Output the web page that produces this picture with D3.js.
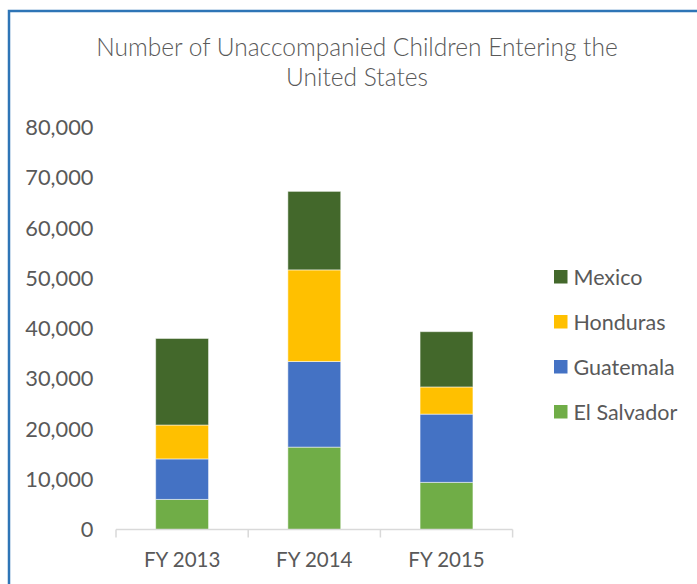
<!DOCTYPE html>
<html>
<head>
<meta charset="utf-8">
<script src="https://cdn.jsdelivr.net/npm/d3@7"></script>
<style>
  html, body { margin: 0; padding: 0; background: #fff; }
  svg { display: block; }
</style>
</head>
<body>
<svg id="chart" width="697" height="584"></svg>
<script>
const categories = ["FY 2013", "FY 2014", "FY 2015"];
const seriesNames = ["El Salvador", "Guatemala", "Honduras", "Mexico"];
const elSalvador = [5990, 16404, 9389];
const guatemala = [8068, 17057, 13589];
const honduras = [6747, 18244, 5409];
const mexico = [17240, 15634, 11012];
const yTicks = [0, 10000, 20000, 30000, 40000, 50000, 60000, 70000, 80000];
const colors = ["#70AD47", "#4472C4", "#FFC000", "#43682B"];
const titleLines = ["Number of Unaccompanied Children Entering the", "United States"];

const seriesValues = [elSalvador, guatemala, honduras, mexico];
const rows = categories.map((c, i) => {
  const r = { category: c };
  seriesNames.forEach((s, j) => r[s] = seriesValues[j][i]);
  return r;
});

const svg = d3.select("#chart");
const W = 697, H = 584;

// Border (top and left visible)
svg.append("path")
  .attr("d", `M9,${H + 2} L9,11 L${W + 2},11`)
  .attr("fill", "none")
  .attr("stroke", "#2E75B6")
  .attr("stroke-width", 2.5);

const textColor = "#595959";
const labelFont = "Lato, 'Open Sans', 'Liberation Sans', sans-serif";

// Title
svg.append("text")
  .attr("x", 357)
  .attr("y", 55.5)
  .attr("text-anchor", "middle")
  .attr("fill", textColor)
  .style("font-family", "Lato, 'DejaVu Sans', sans-serif")
  .style("font-weight", 300)
  .style("font-size", "24.5px")
  .selectAll("tspan")
  .data(titleLines)
  .join("tspan")
  .attr("x", 357)
  .attr("dy", (d, i) => i === 0 ? 0 : 30)
  .text(d => d);

const x = d3.scaleBand()
  .domain(categories)
  .range([116, 512.6])
  .paddingInner(0.6)
  .paddingOuter(0.3);

const y = d3.scaleLinear()
  .domain([0, 80000])
  .range([529.5, 127.8]);

const stack = d3.stack().keys(seriesNames);
const stacked = stack(rows);

const g = svg.append("g");
g.selectAll("g.series")
  .data(stacked)
  .join("g")
  .attr("class", "series")
  .attr("fill", (d, i) => colors[i])
  .selectAll("rect")
  .data(d => d)
  .join("rect")
  .attr("x", d => x(d.data.category))
  .attr("width", x.bandwidth())
  .attr("y", d => y(d[1]))
  .attr("height", d => y(d[0]) - y(d[1]))
  .attr("stroke", "rgba(255,255,255,0.5)")
  .attr("stroke-width", 1);

// Y axis labels
const yAxis = d3.axisLeft(y)
  .tickValues(yTicks)
  .tickSize(0)
  .tickPadding(0)
  .tickFormat(d3.format(","));
const yg = svg.append("g")
  .attr("transform", "translate(93.5,0)")
  .call(yAxis);
yg.select(".domain").remove();
yg.selectAll("text")
  .attr("fill", textColor)
  .style("font-family", labelFont)
  .style("font-size", "21.8px");

// X axis
const xAxis = d3.axisBottom(x)
  .tickSize(0)
  .tickPadding(0);
const xg = svg.append("g")
  .attr("transform", "translate(0,529.5)")
  .call(xAxis);
xg.select(".domain")
  .attr("stroke", "#D9D9D9")
  .attr("stroke-width", 1.5)
  .attr("d", `M116,0H512.6`);
xg.selectAll("text")
  .attr("fill", textColor)
  .attr("dy", "0")
  .attr("y", 37.5)
  .style("font-family", labelFont)
  .style("font-size", "20.5px");
// category boundary ticks
const step = x.step();
const boundaries = d3.range(categories.length + 1).map(i => 116 + i * step);
xg.selectAll("line.bound")
  .data(boundaries)
  .join("line")
  .attr("class", "bound")
  .attr("x1", d => d).attr("x2", d => d)
  .attr("y1", 0).attr("y2", 8)
  .attr("stroke", "#D9D9D9")
  .attr("stroke-width", 1.5);

// Legend
const legendOrder = [3, 2, 1, 0];
const lg = svg.append("g");
const items = lg.selectAll("g.item")
  .data(legendOrder)
  .join("g")
  .attr("class", "item")
  .attr("transform", (d, i) => `translate(554,${277 + i * 45})`);
items.append("rect")
  .attr("x", 0).attr("y", -7)
  .attr("width", 13.5).attr("height", 13.5)
  .attr("fill", d => colors[d]);
items.append("text")
  .attr("x", 19.5)
  .attr("y", 0)
  .attr("dy", "0.35em")
  .attr("fill", textColor)
  .style("font-family", labelFont)
  .style("font-size", "21.5px")
  .text(d => seriesNames[d]);
</script>
</body>
</html>
